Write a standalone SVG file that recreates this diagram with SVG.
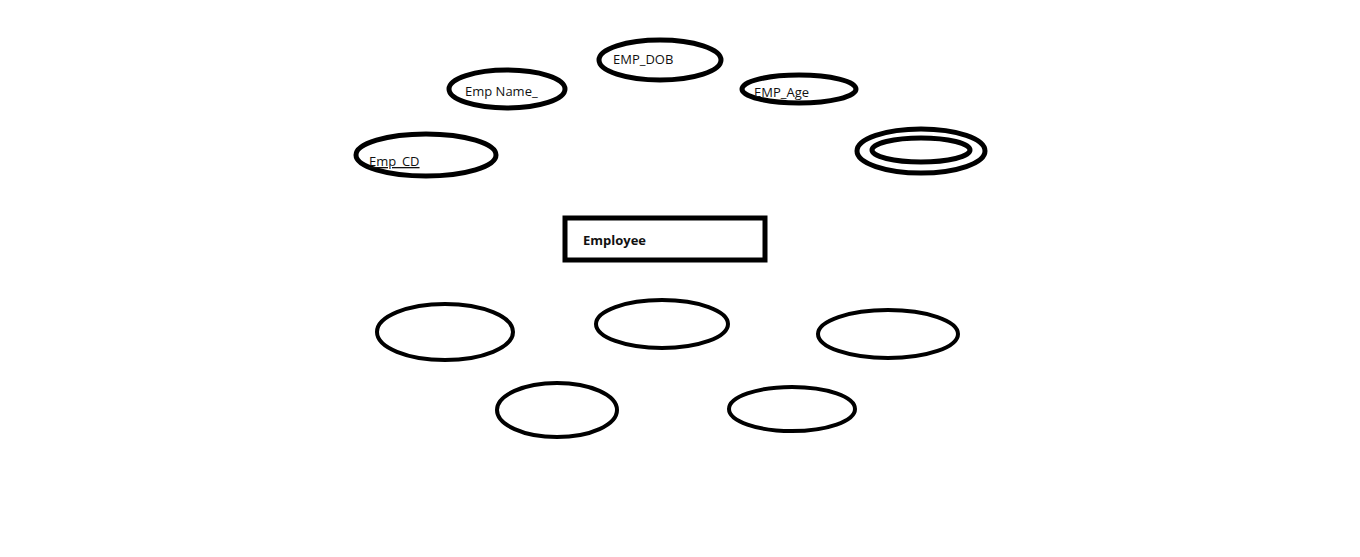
<svg xmlns="http://www.w3.org/2000/svg" width="1360" height="557" viewBox="0 0 1360 557">
<style>
.a{fill:none;stroke:#000;stroke-width:5}
.b{fill:none;stroke:#000;stroke-width:4}
.t{font-family:"Open Sans","Noto Sans",sans-serif;font-size:13px;fill:#111}
.e{font-family:"Open Sans","Noto Sans",sans-serif;font-size:13px;font-weight:bold;fill:#111}
</style>
<rect width="1360" height="557" fill="#fff"/>
<g id="connectors"></g>
<g id="emp_dob"><ellipse class="a" cx="660" cy="60" rx="61" ry="20"/><text class="t" x="613" y="64">EMP_DOB</text></g>
<g id="emp_name"><ellipse class="a" cx="507" cy="89" rx="58" ry="19"/><text class="t" x="465" y="96">Emp Name_</text></g>
<g id="emp_cd"><ellipse class="a" cx="426" cy="155" rx="70" ry="21"/><text class="t" x="369" y="166" text-decoration="underline">Emp_CD</text></g>
<g id="emp_age"><ellipse class="a" cx="799" cy="89" rx="57" ry="14"/><text class="t" x="754" y="97">EMP_Age</text></g>
<g id="multi"><ellipse class="a" cx="921" cy="151" rx="64" ry="22"/><ellipse class="a" cx="921" cy="150" rx="49" ry="12"/></g>
<g id="employee"><rect x="565" y="218" width="200" height="42" fill="#fff" stroke="#000" stroke-width="5"/><text class="e" x="583" y="245">Employee</text></g>
<g id="attr1"><ellipse class="b" cx="445" cy="332" rx="68" ry="28"/></g>
<g id="attr2"><ellipse class="b" cx="662" cy="324" rx="66" ry="24"/></g>
<g id="attr3"><ellipse class="b" cx="888" cy="334" rx="70" ry="24"/></g>
<g id="attr4"><ellipse class="b" cx="557" cy="410" rx="60" ry="27"/></g>
<g id="attr5"><ellipse class="b" cx="792" cy="409" rx="63" ry="22"/></g>
</svg>
